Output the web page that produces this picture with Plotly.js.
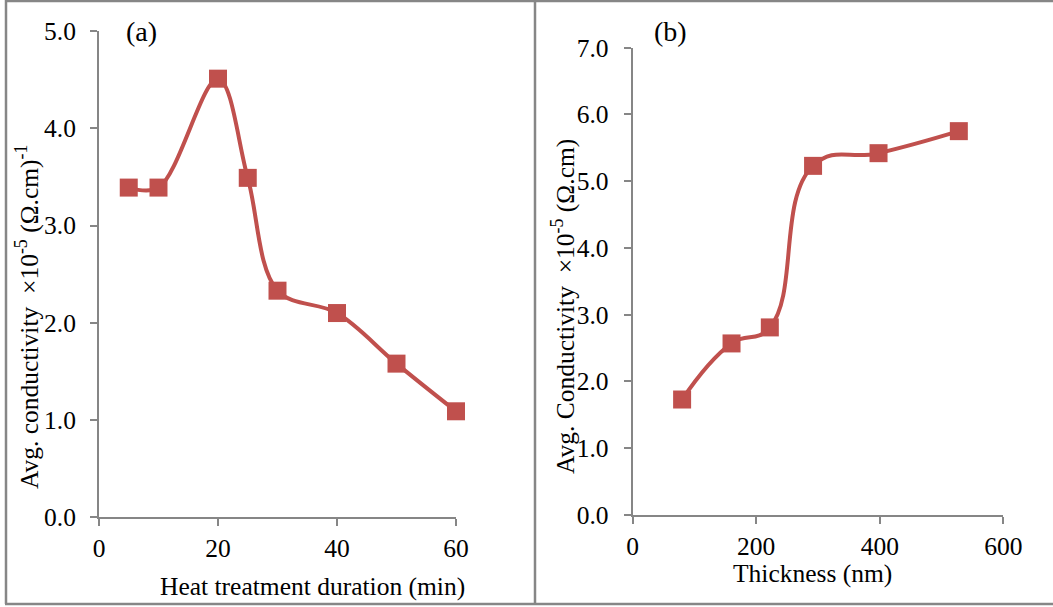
<!DOCTYPE html>
<html>
<head>
<meta charset="utf-8">
<script src="https://cdn.plot.ly/plotly-3.0.1.min.js"></script>
<style>
  html, body { margin: 0; padding: 0; background: #fff; }
  #chart { width: 1053px; height: 607px; }
</style>
</head>
<body>
<div id="chart"></div>
<script>
// (a) heat treatment duration vs conductivity
const durationMin = [5, 10, 20, 25, 30, 40, 50, 60];
const condA = [3.39, 3.39, 4.51, 3.49, 2.33, 2.10, 1.58, 1.09];

// (b) thickness vs conductivity
const thicknessNm = [80, 160, 222, 292, 398, 528];
const condB = [1.73, 2.57, 2.81, 5.23, 5.42, 5.75];

const ticksA = [0, 20, 40, 60];
const ticksYA = [0, 1, 2, 3, 4, 5];
const ticksB = [0, 200, 400, 600];
const ticksYB = [0, 1, 2, 3, 4, 5, 6, 7];

const W = 1053, H = 607;
const red = "#c0504d";
const axisGray = "#868686";
const serif = "Liberation Serif";
const fs = 25.5;

// pixel helpers for layout positions
const px = v => v / W;
const py = v => 1 - v / H;

const traceA = {
  x: durationMin,
  y: condA,
  xaxis: "x",
  yaxis: "y",
  type: "scatter",
  mode: "lines+markers",
  line: { color: red, width: 4, shape: "spline", smoothing: 1 },
  marker: { color: red, symbol: "square", size: 18 },
  cliponaxis: false,
};

const traceB = {
  x: thicknessNm,
  y: condB,
  xaxis: "x2",
  yaxis: "y2",
  type: "scatter",
  mode: "lines+markers",
  line: { color: red, width: 4, shape: "spline", smoothing: 1.3 },
  marker: { color: red, symbol: "square", size: 18 },
  cliponaxis: false,
};

function axis(extra) {
  return Object.assign({
    showgrid: false,
    zeroline: false,
    showline: true,
    linecolor: axisGray,
    linewidth: 2,
    ticks: "outside",
    ticklen: 7,
    tickwidth: 2,
    tickcolor: axisGray,
    tickfont: { family: serif, size: fs, color: "#000" },
    fixedrange: true,
  }, extra);
}

const layout = {
  width: W,
  height: H,
  margin: { l: 0, r: 0, t: 0, b: 0, pad: 0 },
  paper_bgcolor: "#fff",
  plot_bgcolor: "rgba(0,0,0,0)",
  showlegend: false,
  font: { family: serif, color: "#000", size: fs },
  xaxis: axis({
    domain: [px(99), px(456)],
    range: [0, 60],
    tickvals: ticksA,
    ticktext: ticksA.map(String),
    anchor: "y",
  }),
  yaxis: axis({
    domain: [py(517.3), py(31)],
    range: [0, 5],
    tickvals: ticksYA,
    ticktext: ticksYA.map(v => v.toFixed(1)),
    ticklabelstandoff: 9,
    anchor: "x",
  }),
  xaxis2: axis({
    domain: [px(632.7), px(1003.3)],
    range: [0, 600],
    tickvals: ticksB,
    ticktext: ticksB.map(String),
    anchor: "y2",
  }),
  yaxis2: axis({
    domain: [py(515), py(47.7)],
    range: [0, 7],
    tickvals: ticksYB,
    ticktext: ticksYB.map(v => v.toFixed(1)),
    ticklabelstandoff: 10,
    anchor: "x2",
  }),
  shapes: [
    // panel frames
    { type: "line", xref: "paper", yref: "paper", x0: px(6), x1: px(6), y0: py(0), y1: py(604), line: { color: axisGray, width: 2.5 } },
    { type: "line", xref: "paper", yref: "paper", x0: px(535), x1: px(535), y0: py(0), y1: py(604), line: { color: axisGray, width: 2.5 } },
    { type: "line", xref: "paper", yref: "paper", x0: px(5), x1: 1, y0: py(1), y1: py(1), line: { color: axisGray, width: 2.5 } },
    { type: "line", xref: "paper", yref: "paper", x0: px(5), x1: 1, y0: py(604), y1: py(604), line: { color: axisGray, width: 2.5 } },
  ],
  annotations: [
    { text: "(a)", xref: "paper", yref: "paper", x: px(141), y: py(31), xanchor: "center", yanchor: "middle", showarrow: false, font: { family: serif, size: 28 } },
    { text: "(b)", xref: "paper", yref: "paper", x: px(670), y: py(31), xanchor: "center", yanchor: "middle", showarrow: false, font: { family: serif, size: 28 } },
    { text: "Heat treatment duration (min)", xref: "paper", yref: "paper", x: px(312), y: py(586), xanchor: "center", yanchor: "middle", showarrow: false, font: { family: serif, size: fs } },
    { text: "Thickness (nm)", xref: "paper", yref: "paper", x: px(812), y: py(573), xanchor: "center", yanchor: "middle", showarrow: false, font: { family: serif, size: fs } },
    { text: "Avg. conductivity  ×10<sup>-5</sup> (Ω.cm)<sup>-1</sup>", xref: "paper", yref: "paper", x: px(28), y: py(317), xanchor: "center", yanchor: "middle", textangle: -90, showarrow: false, font: { family: serif, size: fs } },
    { text: "Avg. Conductivity  ×10<sup>-5</sup> (Ω.cm)", xref: "paper", yref: "paper", x: px(563), y: py(307), xanchor: "center", yanchor: "middle", textangle: -90, showarrow: false, font: { family: serif, size: fs } },
  ],
};

Plotly.newPlot("chart", [traceA, traceB], layout, { displayModeBar: false, staticPlot: true });
</script>
</body>
</html>
